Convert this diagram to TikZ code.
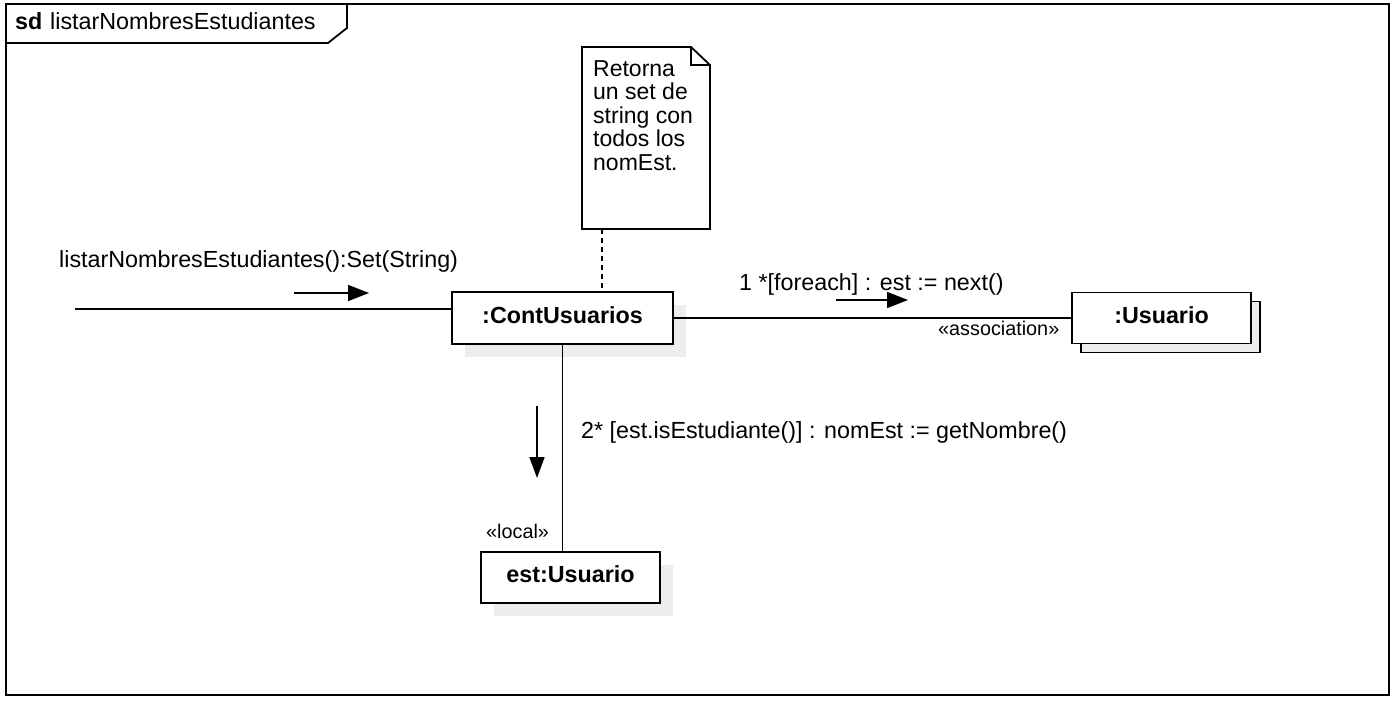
\documentclass[tikz,border=0pt]{standalone}
\usepackage{fontspec}
\setmainfont{Liberation Sans}
\usetikzlibrary{arrows.meta,shadows,calc}

\tikzset{
  lbl/.style={inner sep=0pt, anchor=base west, font=\fontsize{23.3}{28}\selectfont},
  stereo/.style={inner sep=0pt, anchor=base west, font=\fontsize{19.8}{24}\selectfont},
  objbox/.style={draw, line width=1.8pt, fill=white, inner sep=0pt, text depth=6pt,
    font=\bfseries\fontsize{23.3}{28}\selectfont},
  shade/.style={drop shadow={shadow xshift=13pt, shadow yshift=-13pt,
    fill=black!7, opacity=1}},
  multi/.style={general shadow={shadow xshift=9pt, shadow yshift=-9pt,
    fill=black!7, draw=black, line width=1.8pt}},
  conn/.style={line width=1.8pt},
  msg/.style={line width=1.7pt, -{Triangle[length=21pt,width=16pt]}},
  notetext/.style={inner sep=0pt, anchor=north west, align=left,
    font=\fontsize{23}{23.5}\selectfont},
}

\begin{document}
\begin{tikzpicture}[x=1pt,y=-1pt]
\useasboundingbox (0,0) rectangle (1398,706);

% frame with its name tag
\draw[line width=1.8pt] (6,4) rectangle (1389,695);
\draw[line width=1.8pt] (6,43) -- (328,43) -- (347,28) -- (347,4);
\node[lbl, font=\bfseries\fontsize{23.3}{28}\selectfont] (sd) at (15,30) {sd};
\node[lbl] (title) at (50,30) {listarNombresEstudiantes};

% objects
\node[objbox, shade, minimum width=221pt, minimum height=52pt] (cont) at (562.5,318) {:ContUsuarios};
\node[objbox, multi, minimum width=179pt, minimum height=51pt] (usr) at (1161.5,318) {:Usuario};
\node[objbox, shade, minimum width=179pt, minimum height=51pt] (est) at (570.5,577.5) {est:Usuario};

% note
\coordinate (nnw) at (582,47);
\coordinate (nse) at (710,229);
\draw[line width=1.8pt, fill=white] (nnw) -- (691,47) -- (710,65) -- (nse) -- (582,229) -- cycle;
\draw[line width=1.8pt] (691,47) -- (691,65) -- (710,65);
\node[notetext] (note) at (593,60) {Retorna\\un set de\\string con\\todos los\\nomEst.};
\coordinate (nanchor) at (602,229);
\draw[line width=1.8pt, dash pattern=on 5pt off 4pt] (nanchor) -- (nanchor |- cont.north);

% links
\coordinate (entry) at (75,309);
\draw[conn] (entry) -- (entry -| cont.west);
\draw[conn] (cont.east) -- (usr.west);
\draw[conn] (cont.south) -- (cont.south |- est.north);

% messages
\node[lbl] (m0) at (59,267) {listarNombresEstudiantes():Set(String)};
\coordinate (a0s) at (294,293);
\coordinate (a0e) at (369,293);
\draw[msg] (a0s) -- (a0e);

\node[lbl] (m1) at (739,290) {1 *[foreach] : est := next()};
\coordinate (a1s) at (836,300);
\coordinate (a1e) at (908,300);
\draw[msg] (a1s) -- (a1e);
\node[stereo] (assoc) at (938,335) {«association»};

\node[lbl] (m2) at (581,438) {2* [est.isEstudiante()] : nomEst := getNombre()};
\coordinate (a2s) at (537,406);
\coordinate (a2e) at (537,478);
\draw[line width=1.7pt, -{Triangle[length=21pt,width=15pt]}] (a2s) -- (a2e);
\node[stereo] (loc) at (486,538) {«local»};
\end{tikzpicture}
\end{document}
